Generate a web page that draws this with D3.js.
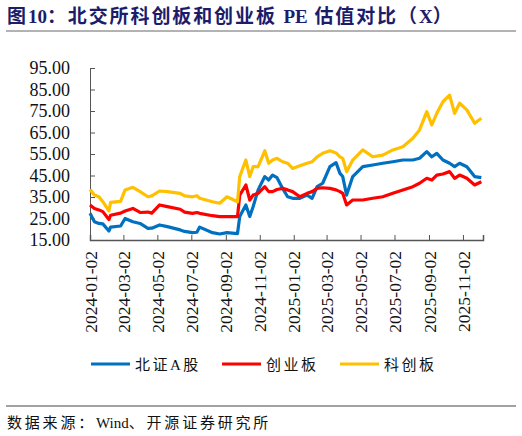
<!DOCTYPE html>
<html>
<head>
<meta charset="utf-8">
<script src="https://cdn.jsdelivr.net/npm/d3@7"></script>
<style>
  body { margin: 0; background: #fff; }
  svg { display: block; }
</style>
</head>
<body>
<div id="chart"></div>
<script>
// dates shared by all three series
var dates = ["2024-01-02","2024-01-10","2024-01-18","2024-01-25","2024-02-05","2024-02-08","2024-02-26",
  "2024-03-05","2024-03-19","2024-04-01","2024-04-15","2024-04-22","2024-05-06","2024-05-20","2024-06-12",
  "2024-06-20","2024-07-04","2024-07-12","2024-07-17","2024-08-09","2024-08-22","2024-09-04","2024-09-23","2024-09-27",
  "2024-10-08","2024-10-15","2024-10-21","2024-10-30","2024-11-11","2024-11-18","2024-11-25","2024-12-03",
  "2024-12-13","2024-12-22","2024-12-31","2025-01-13","2025-01-26","2025-02-04","2025-02-13","2025-02-23",
  "2025-03-08","2025-03-19","2025-03-26","2025-03-31","2025-04-07","2025-04-18","2025-05-06","2025-05-24",
  "2025-06-11","2025-06-29","2025-07-17","2025-08-04","2025-08-16","2025-08-29","2025-09-07","2025-09-16",
  "2025-09-27","2025-10-09","2025-10-18","2025-10-27","2025-11-09","2025-11-23","2025-12-05"];

var bzA = [27.4,23.5,22.7,22.5,19.2,21,21.5,25,23.5,22.7,20.4,20.5,22,21.2,19.7,
  19,18.4,18.6,21,18.4,17.8,18.4,18,25.9,31.3,25.9,30.5,38.3,44.5,42.9,45.2,44,
  39,35.1,34.4,34.4,35.9,34.4,39.8,41.4,49.1,51,46,44.5,35.9,44.5,49.1,49.9,
  50.7,51.4,52.2,52.2,53,56.1,53.7,55.3,52.2,50.7,49.1,50.7,49.1,44.5,44];

var cyb = [31.3,29.7,29,28.2,24.5,26.5,27.5,28.5,29.7,27.8,28,27.5,31.3,30.5,29.3,
  28,27.4,27.8,27.4,26.3,25.9,25.9,25.9,35.9,40.6,33.6,35.9,36.7,39.8,37.5,37.5,38.5,
  39,38.3,37.5,35.1,36.7,37.5,39,39.3,39,38.3,37.5,36.7,31.3,33.6,33.6,34.4,
  35.1,36.7,38.3,39.8,41.4,43.7,42.9,45.2,45.7,46.8,43.7,45.2,43.7,40.6,42.1];

var kcb = [38.5,35.9,35.1,32.8,28.5,32.5,33,38.3,39.5,37.5,35.1,35.5,37.8,37.5,36.7,
  35.5,35.1,35.6,34.4,32.8,32.1,35.1,32.8,44.5,52.2,44.5,49.1,49.1,56.5,50.7,52.2,53,
  51.4,50.7,48.3,49.5,50.7,51.4,53.7,55.3,56.5,55.5,53.7,53,46.8,52.2,56.9,53.7,
  54.5,56.9,58.4,62.3,66.2,74.7,68.5,73.9,79.3,82.4,73.9,78.6,75.5,69.3,71.6];

var seriesNames = ["北证A股", "创业板", "科创板"];
var seriesColors = ["#0070C0", "#FF0000", "#FFC000"];
var yTicks = [15, 25, 35, 45, 55, 65, 75, 85, 95];
var xTickLabels = ["2024-01-02","2024-03-02","2024-05-02","2024-07-02","2024-09-02","2024-11-02",
  "2025-01-02","2025-03-02","2025-05-02","2025-07-02","2025-09-02","2025-11-02"];

var width = 522, height = 436;
var parse = d3.timeParse("%Y-%m-%d");
var cjk = "'Noto Sans CJK SC', sans-serif";
var serif = "'Liberation Serif', 'Times New Roman', serif";

var svg = d3.select("#chart").append("svg")
  .attr("width", width)
  .attr("height", height);

// write text pieces: CJK runs get extra spacing, latin runs don't
function mixedText(sel, parts, cjkSpacing) {
  parts.forEach(function(p) {
    sel.append("tspan")
      .style("letter-spacing", p[1] ? cjkSpacing + "px" : "0px")
      .text(p[0]);
  });
}

// title + rules
var title = svg.append("text")
  .attr("x", 7).attr("y", 23)
  .attr("fill", "#1c1c6b")
  .style("font-family", serif + ", " + cjk)
  .style("font-weight", "bold")
  .style("font-size", "19px");
mixedText(title, [["图", 1], ["10", 0], ["：北交所科创板和创业板 ", 1], ["PE", 0], [" 估值对比（", 1], ["X", 0], ["）", 1]], 1.9);

svg.append("line").attr("x1", 6).attr("x2", 516).attr("y1", 31).attr("y2", 31)
  .attr("stroke", "#666").attr("stroke-width", 1);
svg.append("line").attr("x1", 6).attr("x2", 516).attr("y1", 406).attr("y2", 406)
  .attr("stroke", "#444").attr("stroke-width", 1);

var source = svg.append("text")
  .attr("x", 7).attr("y", 428)
  .attr("fill", "#111")
  .style("font-family", serif + ", " + cjk)
  .style("font-size", "15px");
mixedText(source, [["数据来源：", 1], ["Wind", 0], ["、开源证券研究所", 1]], 2.8);

var x = d3.scaleTime()
  .domain([parse("2024-01-02"), parse("2025-12-08")])
  .range([90, 483]);
var y = d3.scaleLinear()
  .domain([15, 95])
  .range([240, 68]);

// y axis
var yAxis = svg.append("g")
  .attr("transform", "translate(90,0)")
  .call(d3.axisLeft(y).tickValues(yTicks).tickSize(-5).tickPadding(20).tickFormat(d3.format(".2f")));
yAxis.select(".domain").attr("stroke", "#555");
yAxis.selectAll(".tick line").attr("stroke", "#555");
yAxis.selectAll("text")
  .attr("fill", "#111")
  .style("font-family", serif)
  .style("font-size", "18px");

// x axis
var xAxis = svg.append("g")
  .attr("transform", "translate(0,240)")
  .call(d3.axisBottom(x).tickValues(xTickLabels.map(parse)).tickSize(-5).tickFormat(d3.timeFormat("%Y-%m-%d")));
xAxis.select(".domain").attr("stroke", "#555").attr("stroke-width", 1.5);
xAxis.selectAll(".tick line").attr("stroke", "#555");
xAxis.selectAll("text")
  .attr("fill", "#111")
  .style("font-family", serif)
  .style("font-size", "17.5px")
  .attr("text-anchor", "end")
  .attr("transform", "rotate(-90)")
  .attr("x", -11)
  .attr("y", 0)
  .attr("dy", "0.35em");

// lines
var seriesData = [bzA, cyb, kcb];
var line = d3.line()
  .x(function(d) { return x(d.date); })
  .y(function(d) { return y(d.value); });

seriesData.forEach(function(vals, i) {
  var pts = dates.map(function(d, j) { return { date: parse(d), value: vals[j] }; });
  svg.append("path")
    .datum(pts)
    .attr("fill", "none")
    .attr("stroke", seriesColors[i])
    .attr("stroke-width", 3.2)
    .attr("stroke-linejoin", "round")
    .attr("d", line);
});

// legend
var legendX = [91, 222, 340];
var legend = svg.selectAll(".legend")
  .data(seriesNames)
  .enter().append("g")
  .attr("class", "legend")
  .attr("transform", function(d, i) { return "translate(" + legendX[i] + ",364)"; });
legend.append("line")
  .attr("x1", 0).attr("x2", 39)
  .attr("stroke", function(d, i) { return seriesColors[i]; })
  .attr("stroke-width", 3);
legend.append("text")
  .attr("x", 44).attr("y", 5.5)
  .attr("fill", "#111")
  .style("font-family", serif + ", " + cjk)
  .style("font-size", "15px")
  .style("letter-spacing", "2.5px")
  .text(function(d) { return d; });
</script>
</body>
</html>
